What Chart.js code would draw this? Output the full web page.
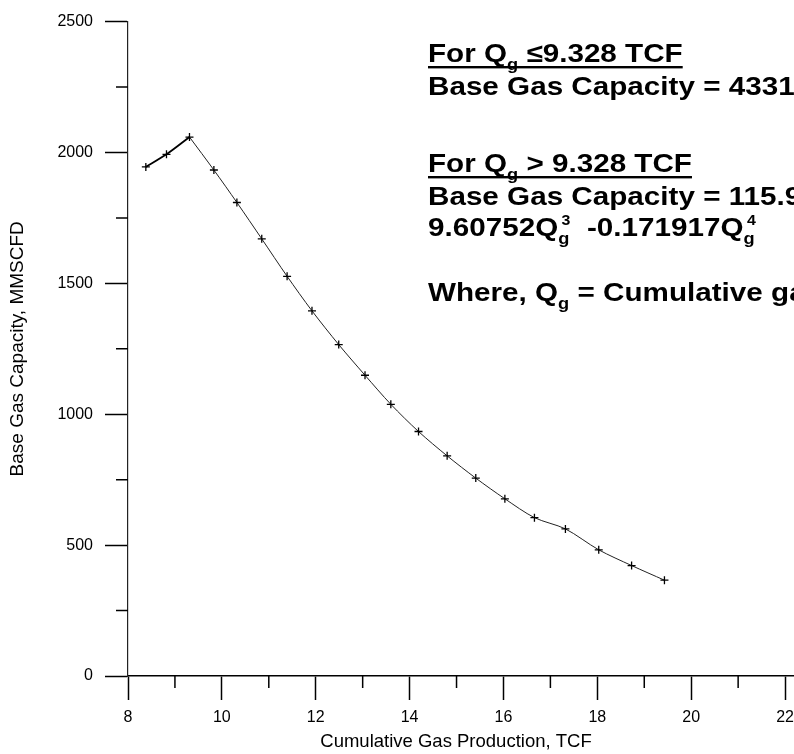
<!DOCTYPE html>
<html>
<head>
<meta charset="utf-8">
<script src="https://cdn.jsdelivr.net/npm/chart.js@4.4.1/dist/chart.umd.min.js"></script>
<style>
html,body{margin:0;padding:0;background:#fff;overflow:hidden;width:794px;height:754px}
#wrap{width:840px;height:754px}
canvas{display:block}
</style>
</head>
<body>
<div id="wrap"><canvas id="c" width="840" height="754"></canvas></div>
<script>
// ---- data ----
const xLow  = [8.38, 8.82, 9.31];
const yLow  = [1945, 1993, 2059];
const xHigh = [9.31, 9.83, 10.32, 10.85, 11.39, 11.92, 12.49, 13.05, 13.60, 14.19, 14.80, 15.41, 16.03, 16.66, 17.32, 18.03, 18.73, 19.43];
const yHigh = [2059, 1933, 1809, 1670, 1527, 1395, 1266, 1149, 1038, 934, 841, 756, 677, 605, 562, 482, 422, 366];
const xTickLabels = ['8','10','12','14','16','18','20','22'];
const yTickLabels = ['0','500','1000','1500','2000','2500'];
const xTitle = 'Cumulative Gas Production, TCF';
const yTitle = 'Base Gas Capacity, MMSCFD';

const annotLines = [
  {y: 62, underline: true, parts: [{t:'For Q'},{sub:'g'},{t:' \u22649.328 TCF'}]},
  {y: 95, parts: [{t:'Base Gas Capacity = 4331'}]},
  {y: 172, underline: true, parts: [{t:'For Q'},{sub:'g'},{t:' > 9.328 TCF'}]},
  {y: 205, parts: [{t:'Base Gas Capacity = 115.9'}]},
  {y: 236, parts: [{t:'9.60752Q'},{sub:'g',sup:'3'},{t:'  -0.171917Q'},{sub:'g',sup:'4'}]},
  {y: 301, parts: [{t:'Where, Q'},{sub:'g'},{t:' = Cumulative gas'}]}
];

const FONT = '"Liberation Sans", Arial, sans-serif';

const minorTicks = {
  id: 'minorTicks',
  afterDraw(chart) {
    const ctx = chart.ctx, xs = chart.scales.x, ys = chart.scales.y;
    ctx.save();
    ctx.strokeStyle = '#000';
    ctx.lineWidth = 1.5;
    ctx.beginPath();
    xs.ticks.forEach(t => {
      if (t.value % 2 !== 0) {
        const px = xs.getPixelForValue(t.value);
        ctx.moveTo(px, xs.top); ctx.lineTo(px, xs.top + 12);
      }
    });
    ys.ticks.forEach(t => {
      if (t.value % 500 !== 0) {
        const py = ys.getPixelForValue(t.value);
        ctx.moveTo(ys.right - 12, py); ctx.lineTo(ys.right, py);
      }
    });
    ctx.stroke();
    ctx.restore();
  }
};

const xTitlePlugin = {
  id: 'xTitle',
  afterDraw(chart) {
    const ctx = chart.ctx;
    ctx.save();
    ctx.fillStyle = '#000';
    ctx.font = '18.5px ' + FONT;
    ctx.textAlign = 'center';
    ctx.textBaseline = 'alphabetic';
    ctx.fillText(xTitle, 456, 747);
    ctx.restore();
  }
};

const annotPlugin = {
  id: 'annot',
  afterDraw(chart) {
    const ctx = chart.ctx;
    const fs = 26, sx = 1.14, x0 = 428;
    annotLines.forEach(line => {
      ctx.save();
      ctx.translate(x0, line.y);
      ctx.scale(sx, 1);
      ctx.fillStyle = '#000';
      ctx.textBaseline = 'alphabetic';
      ctx.textAlign = 'left';
      let x = 0;
      line.parts.forEach(p => {
        if (p.t !== undefined) {
          ctx.font = 'bold ' + fs + 'px ' + FONT;
          ctx.fillText(p.t, x, 0);
          x += ctx.measureText(p.t).width;
        } else {
          let w = 0;
          if (p.sub) {
            ctx.font = 'bold 16px ' + FONT;
            ctx.fillText(p.sub, x, 8);
            w = Math.max(w, ctx.measureText(p.sub).width);
          }
          if (p.sup) {
            ctx.font = 'bold 14px ' + FONT;
            ctx.fillText(p.sup, x + 3, -11);
            w = Math.max(w, ctx.measureText(p.sup).width + 3);
          }
          x += w;
        }
      });
      if (line.underline) ctx.fillRect(0, 4, x, 2.4);
      ctx.restore();
    });
  }
};

const tickFont = {family: FONT, size: 16};

new Chart(document.getElementById('c'), {
  type: 'scatter',
  data: {
    datasets: [
      {
        data: xLow.map((x, i) => ({x: x, y: yLow[i]})),
        showLine: true, borderColor: '#000', borderWidth: 1.8, tension: 0.3,
        pointStyle: 'cross', pointRadius: 4, pointBorderWidth: 1.3,
        pointBorderColor: '#000', pointBackgroundColor: '#000'
      },
      {
        data: xHigh.map((x, i) => ({x: x, y: yHigh[i]})),
        showLine: true, borderColor: '#222', borderWidth: 1, tension: 0.3,
        pointStyle: 'cross', pointRadius: c => c.dataIndex === 0 ? 0 : 4, pointBorderWidth: 1.3,
        pointBorderColor: '#000', pointBackgroundColor: '#000'
      }
    ]
  },
  options: {
    responsive: false,
    animation: false,
    devicePixelRatio: 1,
    layout: {padding: {top: 14, right: 3, bottom: 0, left: 0}},
    plugins: {legend: {display: false}, tooltip: {enabled: false}},
    scales: {
      x: {
        type: 'linear', min: 8, max: 23,
        afterFit: s => { s.height = 78; },
        ticks: {
          stepSize: 1, autoSkip: false, maxRotation: 0, color: '#000', font: tickFont, padding: 8,
          callback: v => xTickLabels.includes(String(v)) ? String(v) : ''
        },
        grid: {
          drawOnChartArea: false, drawTicks: true, tickLength: 24, tickWidth: 1.5,
          tickColor: c => (c.tick && c.tick.value % 2 === 0) ? '#000' : 'rgba(0,0,0,0)'
        },
        border: {display: true, color: '#000', width: 1.6}
      },
      y: {
        type: 'linear', min: 0, max: 2500,
        afterFit: s => { s.width = 128; },
        ticks: {
          stepSize: 250, autoSkip: false, color: '#000', font: tickFont, padding: 12,
          callback: v => yTickLabels.includes(String(v)) ? String(v) : ''
        },
        grid: {
          drawOnChartArea: false, drawTicks: true, tickLength: 23, tickWidth: 1.5,
          tickColor: c => (c.tick && c.tick.value % 500 === 0) ? '#000' : 'rgba(0,0,0,0)'
        },
        border: {display: true, color: '#222', width: 1.2},
        title: {display: true, text: yTitle, color: '#000', font: {family: FONT, size: 19}, padding: {top: 6, bottom: 0}}
      }
    }
  },
  plugins: [minorTicks, xTitlePlugin, annotPlugin]
});
</script>
</body>
</html>
